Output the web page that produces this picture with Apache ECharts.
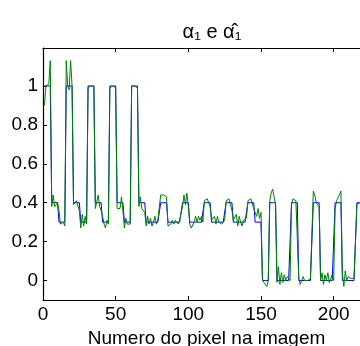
<!DOCTYPE html>
<html>
<head>
<meta charset="utf-8">
<script src="https://cdn.jsdelivr.net/npm/echarts@6/dist/echarts.min.js"></script>
<style>
  html, body { margin: 0; padding: 0; background: #fff; }
  #chart { width: 360px; height: 346px; }
</style>
</head>
<body>
<div id="chart"></div>
<script>
// true alpha_1 per pixel (pixel index starts at 1)
const alphaTrue = [
  1, 1, 1, 1, 1, 0.4, 0.4, 0.4, 0.4, 0.4,
  0.3, 0.3, 0.3, 0.3, 0.3, 1, 1, 1, 1, 1,
  0.4, 0.4, 0.4, 0.4, 0.4, 0.3, 0.3, 0.3, 0.3, 0.3,
  1, 1, 1, 1, 1, 0.4, 0.4, 0.4, 0.4, 0.4,
  0.3, 0.3, 0.3, 0.3, 0.3, 1, 1, 1, 1, 1,
  0.4, 0.4, 0.4, 0.4, 0.4, 0.3, 0.3, 0.3, 0.3, 0.3,
  1, 1, 1, 1, 1, 0.4, 0.4, 0.4, 0.4, 0.4,
  0.3, 0.3, 0.3, 0.3, 0.3, 0.3, 0.3, 0.3, 0.3, 0.3,
  0.4, 0.4, 0.4, 0.4, 0.4, 0.3, 0.3, 0.3, 0.3, 0.3,
  0.3, 0.3, 0.3, 0.3, 0.3, 0.4, 0.4, 0.4, 0.4, 0.4,
  0.3, 0.3, 0.3, 0.3, 0.3, 0.3, 0.3, 0.3, 0.3, 0.3,
  0.4, 0.4, 0.4, 0.4, 0.4, 0.3, 0.3, 0.3, 0.3, 0.3,
  0.3, 0.3, 0.3, 0.3, 0.3, 0.4, 0.4, 0.4, 0.4, 0.4,
  0.3, 0.3, 0.3, 0.3, 0.3, 0.3, 0.3, 0.3, 0.3, 0.3,
  0.4, 0.4, 0.4, 0.4, 0.4, 0.3, 0.3, 0.3, 0.3, 0.3,
  0, 0, 0, 0, 0, 0.4, 0.4, 0.4, 0.4, 0.4,
  0, 0, 0, 0, 0, 0, 0, 0, 0, 0,
  0.4, 0.4, 0.4, 0.4, 0.4, 0, 0, 0, 0, 0,
  0, 0, 0, 0, 0, 0.4, 0.4, 0.4, 0.4, 0.4,
  0, 0, 0, 0, 0, 0, 0, 0, 0, 0,
  0.4, 0.4, 0.4, 0.4, 0.4, 0, 0, 0, 0, 0,
  0, 0, 0, 0, 0, 0.4, 0.4, 0.4, 0.4, 0.4
];

// estimated alpha_1 (hat)
const alphaEst = [
  0.90, 1.00, 1.00, 1.01, 1.13, 0.38, 0.44, 0.38, 0.37, 0.40,
  0.36, 0.29, 0.28, 0.30, 0.28, 1.13, 1.00, 0.98, 1.13, 1.00,
  0.39, 0.38, 0.41, 0.40, 0.36, 0.27, 0.34, 0.28, 0.33, 0.29,
  0.99, 1.00, 1.00, 0.99, 1.00, 0.37, 0.38, 0.44, 0.38, 0.36,
  0.33, 0.29, 0.27, 0.31, 0.29, 0.99, 1.00, 1.00, 1.00, 0.99,
  0.37, 0.38, 0.37, 0.43, 0.36, 0.27, 0.32, 0.29, 0.30, 0.29,
  1.00, 0.99, 1.00, 1.00, 0.99, 0.38, 0.43, 0.37, 0.38, 0.35,
  0.28, 0.33, 0.29, 0.32, 0.28, 0.30, 0.33, 0.29, 0.31, 0.30,
  0.44, 0.44, 0.44, 0.44, 0.43, 0.28, 0.27, 0.29, 0.31, 0.29,
  0.31, 0.30, 0.29, 0.31, 0.30, 0.38, 0.44, 0.39, 0.45, 0.38,
  0.29, 0.27, 0.27, 0.30, 0.33, 0.30, 0.33, 0.31, 0.33, 0.30,
  0.41, 0.42, 0.42, 0.41, 0.38, 0.31, 0.30, 0.33, 0.29, 0.33,
  0.30, 0.31, 0.29, 0.30, 0.31, 0.41, 0.42, 0.42, 0.41, 0.36,
  0.31, 0.30, 0.34, 0.28, 0.33, 0.30, 0.28, 0.31, 0.30, 0.32,
  0.41, 0.42, 0.42, 0.41, 0.37, 0.35, 0.33, 0.37, 0.32, 0.35,
  0.01, -0.01, -0.02, -0.03, 0.00, 0.41, 0.45, 0.47, 0.43, 0.39,
  -0.01, 0.07, -0.02, 0.04, -0.01, 0.03, 0.00, 0.02, 0.01, 0.00,
  0.39, 0.42, 0.41, 0.41, 0.40, 0.01, -0.02, -0.03, 0.02, 0.00,
  0.01, 0.00, 0.01, 0.01, 0.00, 0.46, 0.44, 0.40, 0.39, 0.38,
  0.00, 0.04, -0.02, 0.03, 0.00, 0.04, -0.01, 0.01, 0.03, 0.00,
  0.37, 0.41, 0.42, 0.44, 0.46, 0.04, -0.03, 0.05, 0.00, 0.02,
  0.01, 0.01, 0.01, 0.01, 0.01, 0.39, 0.40, 0.40, 0.40, 0.40
];

const xTicks = [0, 50, 100, 150, 200];
const yTicks = [0, 0.2, 0.4, 0.6, 0.8, 1];

const font = 'Liberation Sans, Arial, Helvetica, sans-serif';
const axisColor = '#000';

const chart = echarts.init(document.getElementById('chart'), null, { renderer: 'canvas' });

const toPairs = (arr) => arr.map((v, i) => [i + 1, v]);

chart.setOption({
  backgroundColor: '#fff',
  animation: false,
  title: {
    text: 'α₁ e α̂₁',
    left: 207,
    top: 17,
    textAlign: 'center',
    textStyle: { fontFamily: font, fontSize: 20, fontWeight: 'normal', color: '#000' }
  },
  grid: { left: 43, top: 48, width: 327, height: 252, outerBoundsMode: 'none', containLabel: false },
  xAxis: [
    {
      type: 'value',
      min: 0,
      max: 225,
      position: 'bottom',
      name: 'Numero do pixel na imagem',
      nameLocation: 'middle',
      nameGap: 22,
      nameTextStyle: { fontFamily: font, fontSize: 19, color: '#000' },
      axisLine: { onZero: false, lineStyle: { color: axisColor, width: 1.2 } },
      axisTick: { inside: true, length: 4, customValues: xTicks, lineStyle: { color: axisColor } },
      axisLabel: { fontFamily: font, fontSize: 19, color: '#000', margin: 5, customValues: xTicks },
      splitLine: { show: false }
    },
    {
      type: 'value',
      min: 0,
      max: 225,
      position: 'top',
      axisLine: { onZero: false, lineStyle: { color: axisColor, width: 1.2 } },
      axisTick: { inside: true, length: 4, customValues: xTicks, lineStyle: { color: axisColor } },
      axisLabel: { show: false },
      splitLine: { show: false }
    }
  ],
  yAxis: {
    type: 'value',
    min: -0.1,
    max: 1.195,
    axisLine: { onZero: false, lineStyle: { color: axisColor, width: 1.2 } },
    axisTick: { inside: true, length: 4, customValues: yTicks, lineStyle: { color: axisColor } },
    axisLabel: {
      fontFamily: font, fontSize: 19, color: '#000', margin: 5,
      customValues: yTicks,
      formatter: (v) => String(Math.round(v * 10) / 10)
    },
    splitLine: { show: false }
  },
  series: [
    {
      name: 'alpha',
      type: 'line',
      xAxisIndex: 0,
      data: toPairs(alphaTrue),
      showSymbol: false,
      lineStyle: { color: '#0000ff', width: 1 },
      clip: true,
      z: 2
    },
    {
      name: 'alpha hat',
      type: 'line',
      xAxisIndex: 0,
      data: toPairs(alphaEst),
      showSymbol: false,
      lineStyle: { color: '#008000', width: 1 },
      clip: true,
      z: 3
    }
  ]
});
</script>
</body>
</html>
